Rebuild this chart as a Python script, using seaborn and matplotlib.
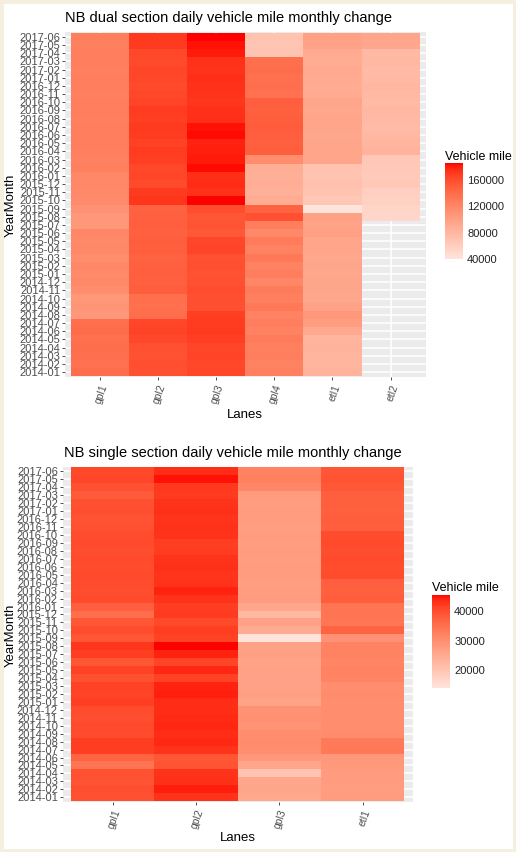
import numpy as np
import pandas as pd
import matplotlib
matplotlib.use("Agg")
import matplotlib.pyplot as plt
from matplotlib.colors import ListedColormap, to_rgb
from matplotlib.patches import Rectangle
import seaborn as sns

# ---------------------------------------------------------------- data
# Months shown top-to-bottom: newest first
months = [p.strftime("%Y-%m") for p in pd.period_range("2014-01", "2017-06", freq="M")][::-1]

dual_lanes = ["gpl1", "gpl2", "gpl3", "gpl4", "etl1", "etl2"]
single_lanes = ["gpl1", "gpl2", "gpl3", "etl1"]

# NB dual section (rows ordered 2017-06 ... 2014-01)
dual_gpl1 = [125000, 124000, 126000, 125000, 124000, 125000, 126000, 124000, 125000, 125000,
             124000, 126000, 125000, 125000, 124000, 123000, 124000, 117000, 118000, 116000,
             115000, 109000, 105000, 106000, 119000, 116000, 118000, 114000, 117000, 115000,
             117000, 113000, 106000, 107000, 105000, 137000, 139000, 136000, 138000, 137000,
             135000, 138000]
dual_gpl2 = [170000, 169000, 162000, 161000, 163000, 162000, 160000, 162000, 164000, 168000,
             167000, 169000, 168000, 166000, 168000, 167000, 162000, 163000, 161000, 169000,
             171000, 146000, 147000, 148000, 147000, 149000, 148000, 146000, 147000, 148000,
             147000, 149000, 137000, 136000, 138000, 163000, 165000, 162000, 157000, 156000,
             158000, 157000]
dual_gpl3 = [184500, 182000, 180000, 173000, 172000, 174000, 173000, 172000, 171000, 173000,
             174000, 182000, 183000, 178000, 179000, 180000, 183000, 174000, 175000, 173000,
             184500, 159000, 154000, 155000, 153000, 163000, 164000, 157000, 158000, 156000,
             157000, 159000, 158000, 157000, 167000, 168000, 169000, 167000, 163000, 164000,
             162000, 163000]
dual_gpl4 = [68000, 66000, 67000, 137000, 138000, 136000, 137000, 135000, 148000, 147000,
             149000, 150000, 148000, 147000, 149000, 113000, 86000, 85000, 87000, 84000,
             88000, 146000, 157000, 125000, 118000, 128000, 121000, 129000, 122000, 126000,
             119000, 127000, 124000, 129000, 121000, 126000, 122000, 128000, 124000, 126000,
             122000, 124000]
dual_etl1 = [97000, 96000, 89000, 88000, 90000, 89000, 88000, 89000, 93000, 92000,
             94000, 93000, 92000, 93000, 94000, 93000, 68000, 67000, 69000, 68000,
             64000, 38000, 97000, 96000, 98000, 93000, 94000, 92000, 93000, 92000,
             94000, 93000, 92000, 95000, 105000, 100000, 90000, 80000, 81000, 79000,
             80000, 82000]
dual_etl2 = [93000, 92000, 76000, 77000, 75000, 76000, 78000, 76000, 75000, 77000,
             76000, 75000, 77000, 80000, 81000, 64000, 63000, 62000, 63000, 56000,
             55000, 52000, 51000] + [np.nan] * 19

# NB single section (rows ordered 2017-06 ... 2014-01)
single_gpl1 = [40500, 40600, 39200, 38000, 39200, 39400, 39000, 39300, 39800, 40000,
               39600, 39900, 39700, 40000, 39800, 39600, 39900, 37400, 35000, 38600,
               39800, 38600, 42300, 41500, 38600, 41200, 39200, 41200, 41000, 41400,
               39800, 39600, 40000, 39800, 41500, 41600, 36600, 34000, 39200, 39000,
               39400, 39200]
single_gpl2 = [43000, 44600, 42000, 41800, 42600, 42800, 42400, 42700, 42500, 41600,
               41700, 42600, 42800, 42400, 42600, 43800, 42600, 41600, 41800, 40200,
               41600, 41200, 45200, 43800, 40800, 43500, 41200, 43800, 44000, 43000,
               43100, 43300, 43500, 43100, 43400, 42600, 38600, 38800, 42600, 42800,
               44200, 42600]
single_gpl3 = [31500, 32000, 31000, 27200, 27000, 27400, 27200, 26900, 27300, 27100,
               27200, 27000, 27300, 27200, 26900, 27100, 27300, 25400, 21900, 26300,
               24500, 13600, 26300, 26500, 26100, 26400, 26200, 26300, 26600, 26000,
               29000, 29200, 28800, 29900, 30100, 29700, 28000, 25400, 20000, 25400,
               25600, 25200]
single_etl1 = [38600, 38800, 38400, 37400, 37400, 37200, 37600, 37400, 39800, 40000,
               39600, 39900, 39700, 39800, 37400, 37200, 37500, 34000, 34200, 33800,
               36600, 29000, 31500, 31700, 31300, 31600, 31400, 29900, 30100, 29700,
               30000, 29800, 29900, 30100, 33200, 33400, 28000, 27800, 27200, 27400,
               27000, 27200]

dual = pd.DataFrame({"gpl1": dual_gpl1, "gpl2": dual_gpl2, "gpl3": dual_gpl3,
                     "gpl4": dual_gpl4, "etl1": dual_etl1, "etl2": dual_etl2},
                    index=months)[dual_lanes]
single = pd.DataFrame({"gpl1": single_gpl1, "gpl2": single_gpl2,
                       "gpl3": single_gpl3, "etl1": single_etl1},
                      index=months)[single_lanes]

# ---------------------------------------------------------------- colour scale
_M = np.array([[0.4124, 0.3576, 0.1805],
               [0.2126, 0.7152, 0.0722],
               [0.0193, 0.1192, 0.9505]])
_WHITE = np.array([0.95047, 1.0, 1.08883])


def to_lab(color):
    c = np.array(to_rgb(color))
    lin = np.where(c <= 0.04045, c / 12.92, ((c + 0.055) / 1.055) ** 2.4)
    t = (_M @ lin) / _WHITE
    d = 6 / 29
    f = np.where(t > d ** 3, np.cbrt(t), t / (3 * d * d) + 4 / 29)
    return np.array([116 * f[1] - 16, 500 * (f[0] - f[1]), 200 * (f[1] - f[2])])


def from_lab(lab):
    L, a, b = lab
    fy = (L + 16) / 116
    fx, fz = fy + a / 500, fy - b / 200
    d = 6 / 29
    finv = lambda f: f ** 3 if f > d else 3 * d * d * (f - 4 / 29)
    xyz = np.array([finv(fx), finv(fy), finv(fz)]) * _WHITE
    lin = np.clip(np.linalg.solve(_M, xyz), 0, 1)
    c = np.where(lin <= 0.0031308, 12.92 * lin, 1.055 * lin ** (1 / 2.4) - 0.055)
    return np.clip(c, 0, 1)


def lab_gradient(low, high, n=256):
    a, b = to_lab(low), to_lab(high)
    return ListedColormap([from_lab(a + (b - a) * t) for t in np.linspace(0, 1, n)])


cmap = lab_gradient("#FFE4DC", "#FF0000")

# ---------------------------------------------------------------- figure
W, H = 516, 853
sns.set_theme(style="white")
plt.rcParams["font.family"] = ["Liberation Sans", "DejaVu Sans"]
fig = plt.figure(figsize=(W / 100, H / 100), dpi=100, facecolor="#F4EFDF")
fig.patches.append(Rectangle((4 / W, 3 / H), 1 - 7 / W, 1 - 8 / H,
                             transform=fig.transFigure, facecolor="white",
                             edgecolor="none", zorder=-10))


def box(x0, y0, x1, y1):
    return [x0 / W, 1 - y1 / H, (x1 - x0) / W, (y1 - y0) / H]


def fx(x):
    return x / W


def fy(y):
    return 1 - y / H


def panel(data, ax_box, cax_box, vmin, vmax, ticks, title, title_xy,
          cb_title_xy, xlab_y, ylab_x):
    ax = fig.add_axes(box(*ax_box))
    cax = fig.add_axes(box(*cax_box))
    sns.heatmap(data, ax=ax, cmap=cmap, vmin=vmin, vmax=vmax, cbar_ax=cax,
                xticklabels=data.columns, yticklabels=data.index, linewidths=0)
    nr, nc = data.shape
    ax.set_xlim(-0.1, nc + 0.1)
    ax.set_ylim(nr + 0.1, -0.1)
    ax.set_facecolor("#EBEBEB")
    ax.set_axisbelow(True)
    ax.grid(True, color="white", linewidth=1.1)
    for s in ax.spines.values():
        s.set_visible(False)
    ax.tick_params(axis="y", length=2.5, width=0.6, color="#333333", pad=1,
                   labelsize=8, labelcolor="#4D4D4D", left=True)
    ax.tick_params(axis="x", length=2.5, width=0.6, color="#333333", pad=1,
                   labelsize=7.5, labelcolor="#4D4D4D", bottom=True)
    for lab in ax.get_yticklabels():
        lab.set_rotation(0)
    for lab in ax.get_xticklabels():
        lab.set_rotation(70)
        lab.set_ha("right")
        lab.set_va("top")
        lab.set_rotation_mode("anchor")
    ax.set_xlabel("")
    ax.set_ylabel("")

    cb = ax.collections[0].colorbar
    cb.outline.set_visible(False)
    cb.set_ticks(ticks)
    cb.set_ticklabels([str(t) for t in ticks])
    cax.yaxis.set_ticks_position("both")
    cax.tick_params(direction="in", length=3.5, width=0.8, color="white",
                    labelsize=8, labelcolor="#222222", pad=3)
    cax.tick_params(labelleft=False, labelright=True)

    fig.text(fx(title_xy[0]), fy(title_xy[1]), title, fontsize=10.5,
             color="black", ha="left", va="center")
    fig.text(fx(cb_title_xy[0]), fy(cb_title_xy[1]), "Vehicle mile",
             fontsize=9, color="black", ha="left", va="center")
    xmid = (ax_box[0] + ax_box[2]) / 2
    fig.text(fx(xmid), fy(xlab_y), "Lanes", fontsize=9.5, color="black",
             ha="center", va="center")
    ymid = (ax_box[1] + ax_box[3]) / 2
    fig.text(fx(ylab_x), fy(ymid), "YearMonth", fontsize=9.5, color="black",
             ha="center", va="center", rotation=90)
    return ax


panel(dual, (65, 33, 425.5, 378), (445, 164.3, 463, 260), 38000, 184500,
      [40000, 80000, 120000, 160000],
      "NB dual section daily vehicle mile monthly change", (65, 18),
      (445, 157), 415, 11)

panel(single, (62.7, 467.7, 412.7, 803), (432, 595.7, 450, 689), 13600, 45200,
      [20000, 30000, 40000],
      "NB single section daily vehicle mile monthly change", (64, 453),
      (432, 588), 838, 11)

fig.savefig("out.png", dpi=100, facecolor=fig.get_facecolor())
